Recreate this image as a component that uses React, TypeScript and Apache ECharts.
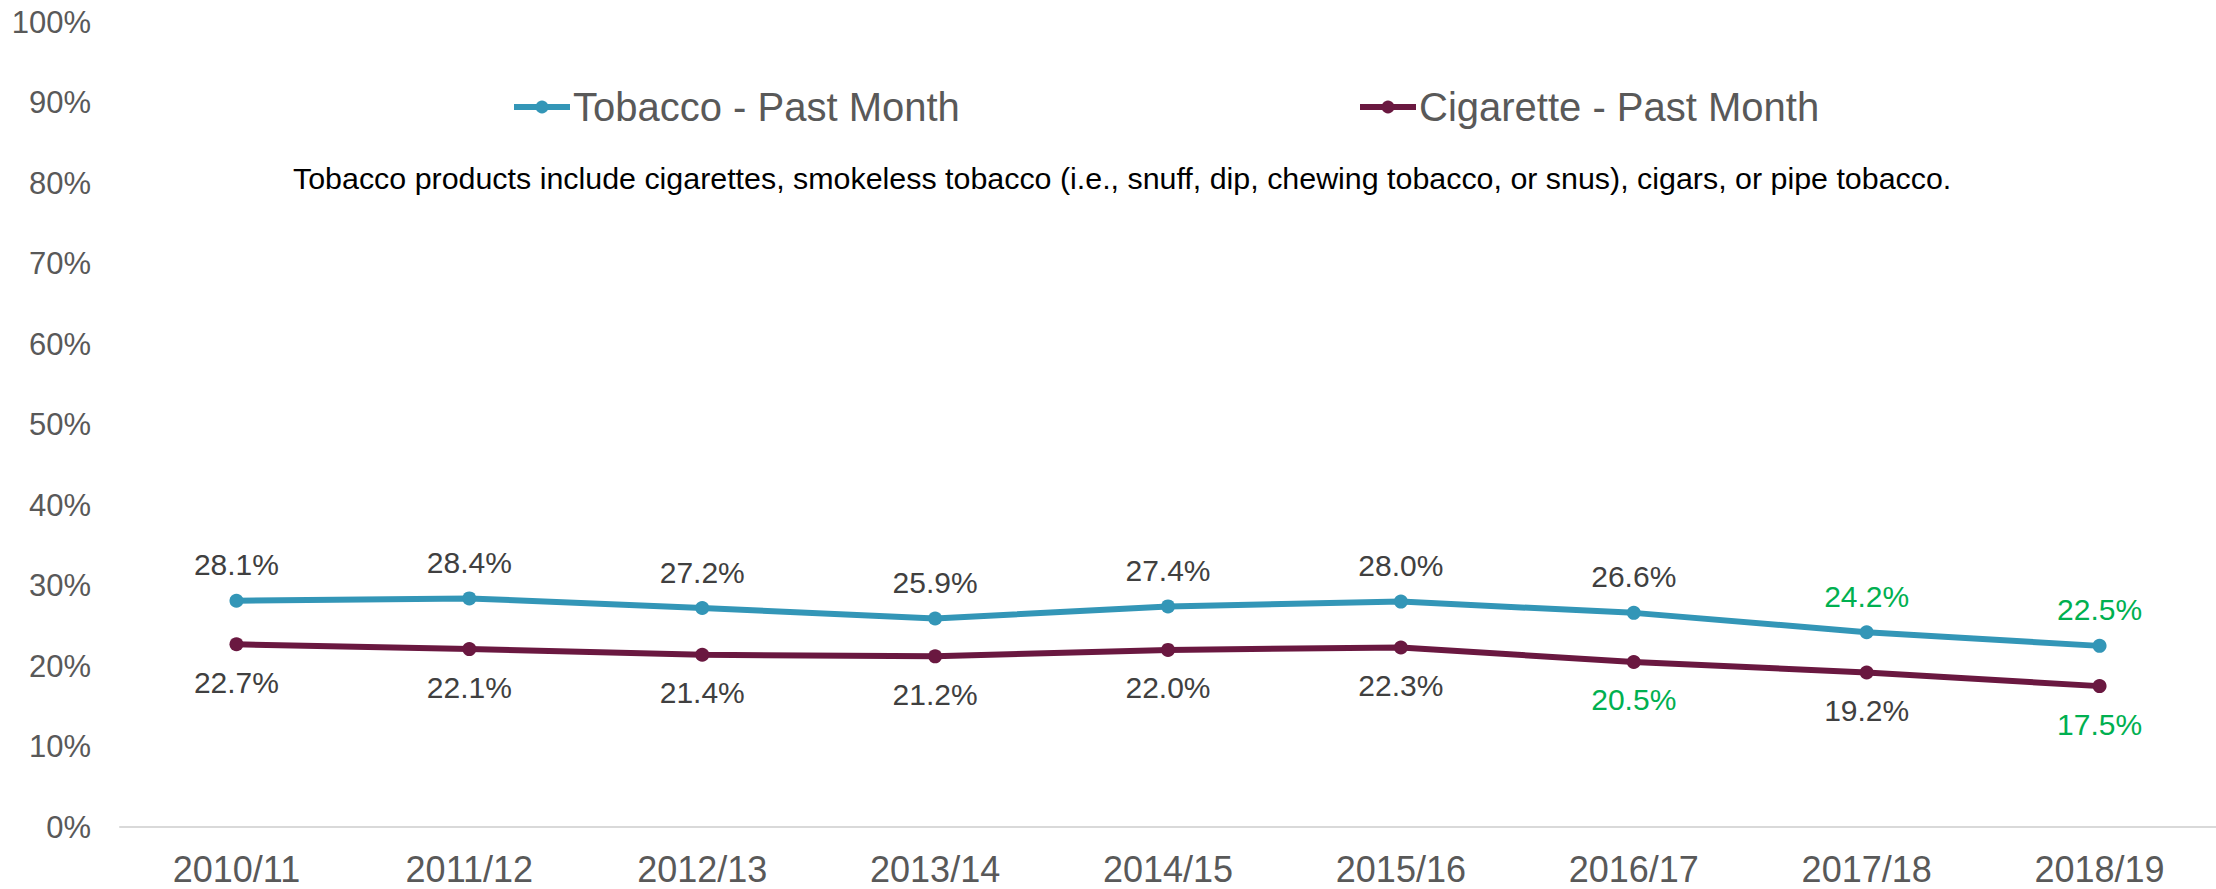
import React, { useEffect, useRef } from "react";
import * as echarts from "echarts";

const categories = ["2010/11", "2011/12", "2012/13", "2013/14", "2014/15", "2015/16", "2016/17", "2017/18", "2018/19"];
const tobacco = [28.1, 28.4, 27.2, 25.9, 27.4, 28.0, 26.6, 24.2, 22.5];
const cigarette = [22.7, 22.1, 21.4, 21.2, 22.0, 22.3, 20.5, 19.2, 17.5];
const tobaccoHighlight = [false, false, false, false, false, false, false, true, true];
const cigaretteHighlight = [false, false, false, false, false, false, true, false, true];
const seriesNames = ["Tobacco - Past Month", "Cigarette - Past Month"];
const note = "Tobacco products include cigarettes, smokeless tobacco (i.e., snuff, dip, chewing tobacco, or snus), cigars, or pipe tobacco.";

const FONT = "'Liberation Sans', Arial, sans-serif";
const BLUE = "#3396B7";
const MAROON = "#6A1840";
const GREEN = "#00B050";
const LABEL_GRAY = "#404040";
const AXIS_GRAY = "#595959";

export default function App() {
  const ref = useRef<HTMLDivElement>(null);
  useEffect(() => {
    if (!ref.current) return;
    const chart = echarts.init(ref.current, undefined, { renderer: "svg" });
    const mkData = (vals: number[], hi: boolean[]) =>
      vals.map((v, i) => ({
        value: v,
        label: { color: hi[i] ? GREEN : LABEL_GRAY },
      }));
    const legendBase = {
      top: 82,
      itemWidth: 56,
      itemHeight: 16,
      itemGap: 5,
      lineStyle: { width: 6 },
      textStyle: { fontSize: 40, color: AXIS_GRAY, fontFamily: FONT, padding: [0, 0, 0, -2] },
    };
    chart.setOption({
      animation: false,
      backgroundColor: "#ffffff",
      textStyle: { fontFamily: FONT },
      grid: { left: 120, right: 0, top: 22, bottom: 62, containLabel: false },
      legend: [
        { ...legendBase, data: [seriesNames[0]], left: 506 },
        { ...legendBase, data: [seriesNames[1]], left: 1352 },
      ],
      graphic: [
        {
          type: "text",
          left: 293,
          top: 163,
          style: { text: note, fontSize: 30.4, fill: "#000000", fontFamily: FONT },
        },
      ],
      xAxis: {
        type: "category",
        data: categories,
        boundaryGap: true,
        axisLine: { show: true, lineStyle: { color: "#D9D9D9", width: 2 } },
        axisTick: { show: false },
        axisLabel: { color: AXIS_GRAY, fontSize: 36, margin: 24, fontFamily: FONT },
        splitLine: { show: false },
      },
      yAxis: {
        type: "value",
        min: 0,
        max: 100,
        interval: 10,
        axisLine: { show: false },
        axisTick: { show: false },
        splitLine: { show: false },
        axisLabel: { formatter: "{value}%", color: AXIS_GRAY, fontSize: 31, margin: 29, fontFamily: FONT },
      },
      series: [
        {
          name: seriesNames[0],
          type: "line",
          data: mkData(tobacco, tobaccoHighlight),
          symbol: "circle",
          symbolSize: 14,
          lineStyle: { color: BLUE, width: 6 },
          itemStyle: { color: BLUE },
          label: {
            show: true,
            position: "top",
            distance: 14,
            fontSize: 30,
            fontFamily: FONT,
            formatter: (p: any) => p.value.toFixed(1) + "%",
          },
        },
        {
          name: seriesNames[1],
          type: "line",
          data: mkData(cigarette, cigaretteHighlight),
          symbol: "circle",
          symbolSize: 14,
          lineStyle: { color: MAROON, width: 6 },
          itemStyle: { color: MAROON },
          label: {
            show: true,
            position: "bottom",
            distance: 16,
            fontSize: 30,
            fontFamily: FONT,
            formatter: (p: any) => p.value.toFixed(1) + "%",
          },
        },
      ],
    });
    return () => chart.dispose();
  }, []);
  return (
    <div
      ref={ref}
      style={{ position: "fixed", left: 0, top: 0, width: 2216, height: 889, background: "#fff" }}
    />
  );
}
